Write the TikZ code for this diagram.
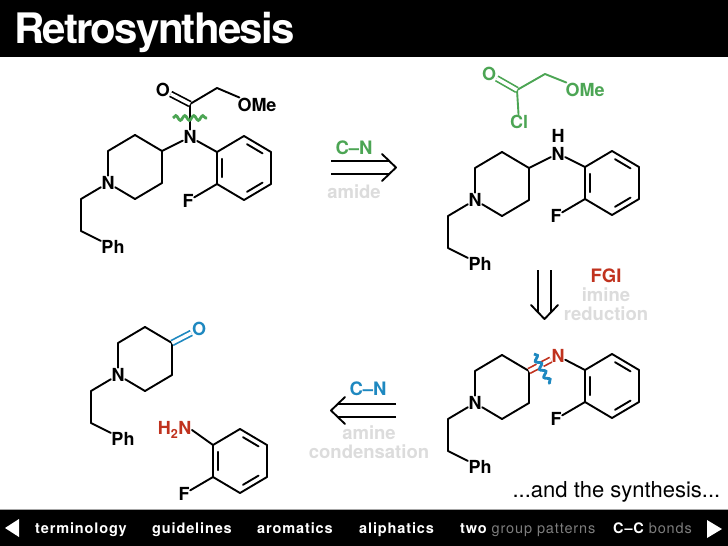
\documentclass[tikz,border=0pt]{standalone}
\usepackage{fontspec}
\setmainfont{TeX Gyre Heros}
\newfontfamily\navfont[LetterSpace=6]{TeX Gyre Heros}
\newfontfamily\titlefont[LetterSpace=-4.2]{TeX Gyre Heros}
\usetikzlibrary{calc}
\usetikzlibrary{decorations.pathmorphing}

\definecolor{synthgreen}{RGB}{76,165,84}
\definecolor{synthred}{RGB}{192,50,30}
\definecolor{synthblue}{RGB}{30,136,192}
\definecolor{fadegray}{RGB}{220,220,220}
\definecolor{navgray}{RGB}{125,125,125}

\tikzset{
  bond/.style={line width=1.9pt,line cap=round,line join=round},
  dbond/.style={line width=1.7pt,double=white,double distance=3.4pt},
  atom/.style={font=\fontsize{18}{18}\selectfont\bfseries,inner sep=0.5pt},
  tag/.style={font=\fontsize{18.5}{18.5}\selectfont\bfseries,inner sep=0pt},
  navitem/.style={font=\navfont\fontsize{14.5}{14.5}\selectfont\bfseries,text=white,anchor=base west,inner sep=0pt},
  wave/.style={line width=2.8pt,decorate,decoration={snake,amplitude=2.4pt,segment length=9pt}}
}

% piperidine with phenethyl arm: #1 name, #2 position of ring N
\newcommand{\piperidine}[2]{
\begin{scope}[shift={(#2)}]
 \node[atom] (#1n) at (0,0) {N};
 \coordinate (#1c2) at (0,-32);
 \coordinate (#1c3) at (27,-48);
 \coordinate (#1c4) at (54,-32);
 \coordinate (#1c5) at (54,0);
 \coordinate (#1c6) at (27,16);
 \coordinate (#1e1) at (-27,16);
 \coordinate (#1e2) at (-27,48);
 \node[atom] (#1ph) at (5,64) {Ph};
 \foreach \a/\b in {n/c2,c2/c3,c3/c4,c4/c5,c5/c6,c6/n,n/e1,e1/e2,e2/ph} {
  \draw[bond] (#1\a) -- (#1\b);
 }
\end{scope}
}

% ortho-fluorophenyl: #1 name, #2 position of ipso carbon
\newcommand{\fluoroaryl}[2]{
\begin{scope}[shift={(#2)}]
 \coordinate (#1a1) at (0,0);
 \coordinate (#1a2) at (27,-16);
 \coordinate (#1a3) at (54,0);
 \coordinate (#1a4) at (54,32);
 \coordinate (#1a5) at (27,48);
 \coordinate (#1a6) at (0,32);
 \coordinate (#1mid) at (27,16);
 \node[atom] (#1f) at (-29,49) {F};
 \draw[bond] (#1a1) -- (#1a2) -- (#1a3) -- (#1a4) -- (#1a5) -- (#1a6) -- cycle;
 \draw[bond] (#1a6) -- (#1f);
 \foreach \a/\b in {a1/a6,a2/a3,a4/a5} {
  \draw[bond] ($(#1\a)!.14!(#1\b)!.2!(#1mid)$) -- ($(#1\b)!.14!(#1\a)!.2!(#1mid)$);
 }
\end{scope}
}

% retrosynthetic arrow: #1 name, #2 start, #3 angle, #4 length
\newcommand{\retroarrow}[4]{
\begin{scope}[shift={(#2)},rotate=#3]
 \coordinate (#1tail1) at (0,-6.5);
 \coordinate (#1tail2) at (0,6.5);
 \coordinate (#1end1) at (#4-7,-6.5);
 \coordinate (#1end2) at (#4-7,6.5);
 \coordinate (#1barb1) at (#4-14,-13.5);
 \coordinate (#1barb2) at (#4-14,13.5);
 \coordinate (#1tip) at (#4,0);
 \draw[bond,line cap=butt] (#1tail1) -- (#1end1);
 \draw[bond,line cap=butt] (#1tail2) -- (#1end2);
 \draw[bond] (#1barb1) -- (#1tip) -- (#1barb2);
\end{scope}
}

\begin{document}
\begin{tikzpicture}[x=1pt,y=-1pt]
\useasboundingbox (0,0) rectangle (728,546);
\fill[white] (0,0) rectangle (728,546);
\fill[black] (0,0) rectangle (728,56.5);
\fill[black] (0,509.5) rectangle (728,546);
\draw[gray!70,line width=1pt] (0,509) -- (728,509);
\node[anchor=base west,inner sep=0pt,text=white,font=\titlefont\fontsize{42}{42}\selectfont\bfseries] (title) at (14,43.5) {Retrosynthesis};

% top left: the amide
\piperidine{ma}{108,183}
\fluoroaryl{ma}{217,152}
\node[atom] (man) at (190,137) {N};
\node[atom] (mao) at (163,90) {O};
\node[atom] (maome) at (257,105) {OMe};
\coordinate (macc) at (190,104);
\coordinate (mach) at (217,88);
\draw[bond] (mac4) -- (man);
\draw[bond] (man) -- (maa1);
\draw[bond] (man) -- (macc) -- (mach) -- (maome);
\draw[dbond] (mao) -- (macc);
\coordinate (mawa) at (173,118);
\coordinate (mawb) at (207,118);
\draw[wave,synthgreen] (mawa) -- (mawb);

% top right: acid chloride and amine
\node[atom,text=synthgreen] (gro) at (489,74) {O};
\node[atom,text=synthgreen] (grome) at (585,90) {OMe};
\node[atom,text=synthgreen] (grcl) at (519,122) {Cl};
\coordinate (grc) at (517,90);
\coordinate (grch) at (545,74);
\draw[bond,synthgreen] (grcl) -- (grc) -- (grch) -- (grome);
\draw[dbond,synthgreen] (gro) -- (grc);
\piperidine{mb}{475,200}
\fluoroaryl{mb}{585,167}
\node[atom] (mbn) at (558,153.5) {N};
\node[atom] (mbh) at (558,136) {H};
\draw[bond] (mbc4) -- (mbn);
\draw[bond] (mbn) -- (mba1);

% bottom right: the imine
\piperidine{mc}{475,403}
\fluoroaryl{mc}{585,370}
\node[atom,text=synthred] (mcn) at (558,356) {N};
\draw[bond] (mcn) -- (mca1);
\draw[dbond,synthred] (mcc4) -- (mcn);
\coordinate (mcwa) at (534,354);
\coordinate (mcwb) at (550,384);
\draw[white,line width=5pt] (mcwa) -- (mcwb);
\draw[wave,synthblue] (mcwa) -- (mcwb);

% bottom left: ketone and aniline
\piperidine{md}{118,375}
\fluoroaryl{md}{213,445}
\node[atom,text=synthblue] (mdo) at (199,329) {O};
\draw[dbond,synthblue] (mdc4) -- (mdo);
\node[atom,text=synthred,anchor=east] (mdn) at (192,430) {H\textsubscript{2}N};
\draw[bond] (mdn.east) -- (mda1);

% retro arrows
\retroarrow{ra}{331,167.5}{0}{65}
\retroarrow{rb}{544.5,270}{-90}{49}
\retroarrow{rc}{396,410.5}{180}{65}

\node[tag,text=synthgreen] (lcn) at (354,148) {C--N};
\node[tag,text=fadegray] (lamide) at (354,192) {amide};
\node[tag,text=synthred] (lfgi) at (606,276) {FGI};
\node[tag,text=fadegray] (limine) at (606,295) {imine};
\node[tag,text=fadegray] (lredu) at (606,314) {reduction};
\node[tag,text=synthblue] (lcnb) at (368,389) {C--N};
\node[tag,text=fadegray] (lamine) at (369,433) {amine};
\node[tag,text=fadegray] (lcond) at (369,452) {condensation};
\node[anchor=base east,inner sep=0pt,font=\fontsize{22}{22}\selectfont] (lsyn) at (720.5,497) {...and the synthesis...};

% bottom bar
\fill[white] (5,528) -- (19,519) -- (19,537) -- cycle;
\fill[white] (722,529) -- (707,520) -- (707,538) -- cycle;
\node[navitem] (navterm) at (35,533.5) {terminology};
\node[navitem] (navguide) at (152,533.5) {guidelines};
\node[navitem] (navarom) at (257,533.5) {aromatics};
\node[navitem] (navaliph) at (359,533.5) {aliphatics};
\node[navitem] (navtwo) at (460,533.5) {two \mdseries\color{navgray}group patterns};
\node[navitem] (navcc) at (613,533.5) {C–C \mdseries\color{navgray}bonds};
\end{tikzpicture}
\end{document}
